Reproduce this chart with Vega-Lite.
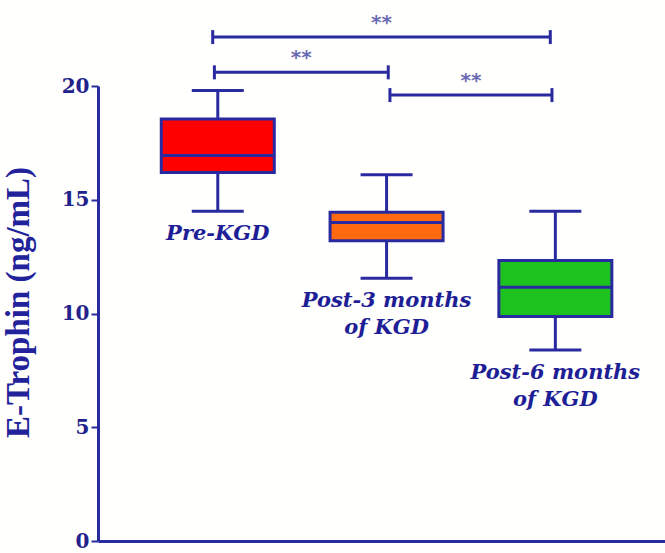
{
  "$schema": "https://vega.github.io/schema/vega-lite/v6.json",
  "width": 567,
  "height": 455,
  "autosize": {"type": "none"},
  "padding": {"left": 98, "top": 86, "right": 0, "bottom": 12},
  "background": "#fffffd",
  "config": {"view": {"stroke": null}},
  "datasets": {
    "boxes": [
      {"g": 1, "label": "Pre-KGD", "lower": 14.5, "q1": 16.2, "median": 16.95, "q3": 18.55, "upper": 19.8, "fill": "#ff0000"},
      {"g": 2, "label": "Post-3 months\nof KGD", "lower": 11.55, "q1": 13.2, "median": 14.0, "q3": 14.45, "upper": 16.1, "fill": "#ff6a10"},
      {"g": 3, "label": "Post-6 months\nof KGD", "lower": 8.4, "q1": 9.87, "median": 11.15, "q3": 12.33, "upper": 14.5, "fill": "#1ec21e"}
    ],
    "brackets": [
      {"a": 0.97, "b": 2.97, "y": 22.15, "sig": "**"},
      {"a": 0.98, "b": 2.01, "y": 20.6, "sig": "**"},
      {"a": 2.02, "b": 2.98, "y": 19.6, "sig": "**"}
    ]
  },
  "layer": [
    {
      "data": {"name": "boxes"},
      "mark": {"type": "rule", "color": "#2a2aa0", "strokeWidth": 3},
      "encoding": {
        "x": {"field": "g", "type": "quantitative", "scale": {"domain": [0.32, 3.62], "nice": false, "zero": false},
          "axis": {"labels": false, "ticks": false, "title": null, "grid": false, "domainColor": "#2a2aa0", "domainWidth": 3}},
        "y": {"field": "lower", "type": "quantitative", "scale": {"domain": [0, 20], "nice": false},
          "axis": {"values": [0, 5, 10, 15, 20], "title": "E-Trophin (ng/mL)", "domainColor": "#2a2aa0", "domainWidth": 3, "tickColor": "#2a2aa0", "tickWidth": 2, "tickSize": 7, "grid": false,
            "labelFont": "DejaVu Serif", "labelFontWeight": "bold", "labelFontSize": 20, "labelColor": "#22228c", "labelPadding": 2,
            "titleFont": "Liberation Serif", "titleFontWeight": "bold", "titleFontSize": 33, "titleColor": "#22229a", "titleY": 216, "titleX": -63}},
        "y2": {"field": "upper"}
      }
    },
    {
      "data": {"name": "boxes"},
      "mark": {"type": "bar", "width": 113, "stroke": "#2a2aa0", "strokeWidth": 3},
      "encoding": {
        "x": {"field": "g", "type": "quantitative"},
        "y": {"field": "q1", "type": "quantitative"},
        "y2": {"field": "q3"},
        "fill": {"field": "fill", "type": "nominal", "scale": null}
      }
    },
    {
      "data": {"name": "boxes"},
      "mark": {"type": "tick", "orient": "horizontal", "size": 113, "thickness": 3, "color": "#2a2aa0", "opacity": 1},
      "encoding": {
        "x": {"field": "g", "type": "quantitative"},
        "y": {"field": "median", "type": "quantitative"}
      }
    },
    {
      "data": {"name": "boxes"},
      "mark": {"type": "tick", "orient": "horizontal", "size": 52, "thickness": 3, "color": "#2a2aa0", "opacity": 1},
      "encoding": {
        "x": {"field": "g", "type": "quantitative"},
        "y": {"field": "lower", "type": "quantitative"}
      }
    },
    {
      "data": {"name": "boxes"},
      "mark": {"type": "tick", "orient": "horizontal", "size": 52, "thickness": 3, "color": "#2a2aa0", "opacity": 1},
      "encoding": {
        "x": {"field": "g", "type": "quantitative"},
        "y": {"field": "upper", "type": "quantitative"}
      }
    },
    {
      "data": {"name": "boxes"},
      "mark": {"type": "text", "baseline": "top", "align": "center", "dy": 12, "lineBreak": "\n", "lineHeight": 27, "font": "DejaVu Serif", "fontWeight": "bold", "fontStyle": "italic", "fontSize": 21, "color": "#1e1e96"},
      "encoding": {
        "x": {"field": "g", "type": "quantitative"},
        "y": {"field": "lower", "type": "quantitative"},
        "text": {"field": "label"}
      }
    },
    {
      "data": {"name": "brackets"},
      "mark": {"type": "rule", "color": "#2a2aa0", "strokeWidth": 3},
      "encoding": {
        "x": {"field": "a", "type": "quantitative"},
        "x2": {"field": "b"},
        "y": {"field": "y", "type": "quantitative"}
      }
    },
    {
      "data": {"name": "brackets"},
      "mark": {"type": "tick", "orient": "vertical", "size": 14, "thickness": 3, "color": "#2a2aa0", "opacity": 1},
      "encoding": {
        "x": {"field": "a", "type": "quantitative"},
        "y": {"field": "y", "type": "quantitative"}
      }
    },
    {
      "data": {"name": "brackets"},
      "mark": {"type": "tick", "orient": "vertical", "size": 14, "thickness": 3, "color": "#2a2aa0", "opacity": 1},
      "encoding": {
        "x": {"field": "b", "type": "quantitative"},
        "y": {"field": "y", "type": "quantitative"}
      }
    },
    {
      "data": {"name": "brackets"},
      "transform": [{"calculate": "(datum.a + datum.b) / 2", "as": "mid"}],
      "mark": {"type": "text", "baseline": "middle", "align": "center", "dy": -14, "font": "DejaVu Sans", "fontWeight": "bold", "fontSize": 20, "color": "#6a6ab4"},
      "encoding": {
        "x": {"field": "mid", "type": "quantitative"},
        "y": {"field": "y", "type": "quantitative"},
        "text": {"field": "sig"}
      }
    }
  ]
}
